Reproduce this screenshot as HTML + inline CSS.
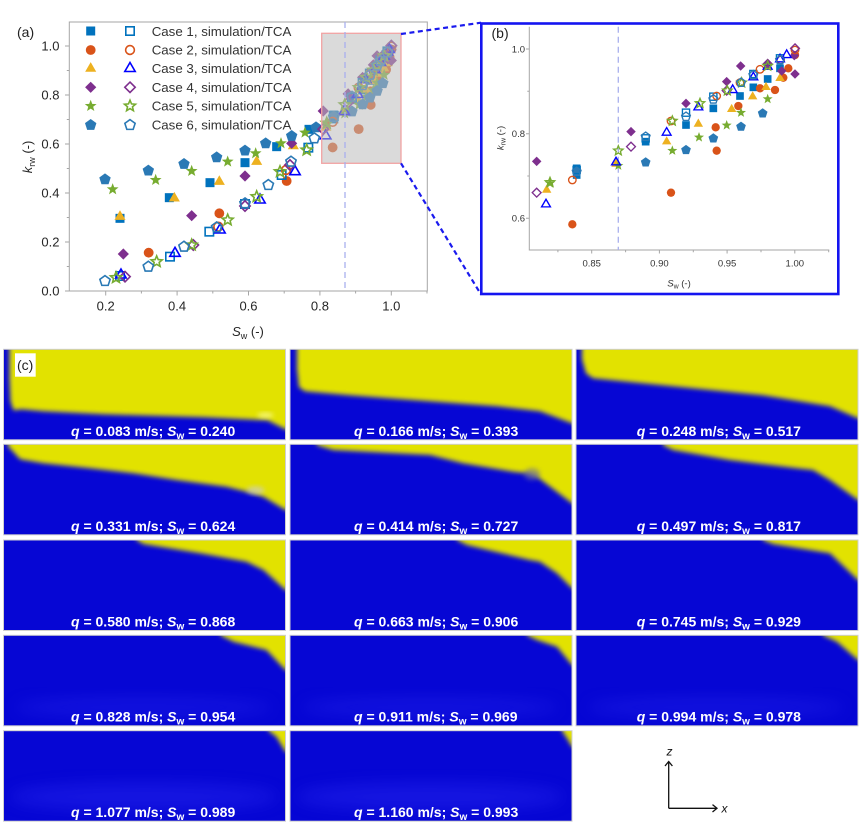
<!DOCTYPE html>
<html><head><meta charset="utf-8">
<style>
html,body{margin:0;padding:0;background:#fff;}
svg{display:block;font-family:"Liberation Sans",Arial,sans-serif;}
</style></head><body>
<svg id="s" width="861" height="826" viewBox="0 0 861 826" xmlns="http://www.w3.org/2000/svg">
<defs>
 <filter id="bl" x="-30%" y="-30%" width="160%" height="160%"><feGaussianBlur stdDeviation="2.3"/></filter>
 <filter id="bl2" x="-50%" y="-50%" width="200%" height="200%"><feGaussianBlur stdDeviation="8"/></filter>
 <clipPath id="tc"><rect x="0" y="0" width="282" height="90.5"/></clipPath>
</defs>
<rect width="861" height="826" fill="#fff"/>

<!-- ===== Panel (a) ===== -->
<g id="aAxes" stroke="#a6a6a6" stroke-width="1" fill="none">
 <path d="M69.3,22 V291 H427.3 V22 Z"/>
 <path d="M65,291H69.3 M65,242H69.3 M65,193H69.3 M65,144H69.3 M65,95H69.3 M65,46H69.3"/>
 <path d="M66.8,266.5H69.3 M66.8,217.5H69.3 M66.8,168.5H69.3 M66.8,119.5H69.3 M66.8,70.5H69.3"/>
 <path d="M105.7,291V295.5 M177.1,291V295.5 M248.5,291V295.5 M319.9,291V295.5 M391.3,291V295.5"/>
 <path d="M141.4,291V293.5 M212.8,291V293.5 M284.2,291V293.5 M355.6,291V293.5 M427,291V293.5"/>
</g>
<g font-size="13" fill="#262626" text-anchor="end">
 <text x="59.5" y="295.6">0.0</text>
 <text x="59.5" y="246.6">0.2</text>
 <text x="59.5" y="197.6">0.4</text>
 <text x="59.5" y="148.6">0.6</text>
 <text x="59.5" y="99.6">0.8</text>
 <text x="59.5" y="50.6">1.0</text>
</g>
<g font-size="13" fill="#262626" text-anchor="middle">
 <text x="105.7" y="310.5">0.2</text>
 <text x="177.1" y="310.5">0.4</text>
 <text x="248.5" y="310.5">0.6</text>
 <text x="319.9" y="310.5">0.8</text>
 <text x="391.3" y="310.5">1.0</text>
</g>
<text x="248" y="336" font-size="13" fill="#262626" text-anchor="middle"><tspan font-style="italic">S</tspan><tspan font-size="9" dy="3">w</tspan><tspan dy="-3"> (-)</tspan></text>
<text transform="translate(32,157) rotate(-90)" font-size="13" fill="#262626" text-anchor="middle"><tspan font-style="italic">k</tspan><tspan font-size="9" dy="3">rw</tspan><tspan dy="-3"> (-)</tspan></text>
<text x="17" y="37" font-size="14" fill="#222">(a)</text>

<g id="aMarks"></g>
<rect x="321.7" y="33.3" width="79.3" height="130" fill="rgba(188,188,188,0.55)" stroke="#f2a3a3" stroke-width="1.3"/>
<line x1="345" y1="22" x2="345" y2="291" stroke="#a9b0ee" stroke-width="1.3" stroke-dasharray="6,4"/>

<g font-size="13.3" fill="#333">
 <text x="151.7" y="35.8">Case 1, simulation/TCA</text>
 <text x="151.7" y="54.5">Case 2, simulation/TCA</text>
 <text x="151.7" y="73">Case 3, simulation/TCA</text>
 <text x="151.7" y="91.8">Case 4, simulation/TCA</text>
 <text x="151.7" y="110.5">Case 5, simulation/TCA</text>
 <text x="151.7" y="129.5">Case 6, simulation/TCA</text>
</g>
<g id="legMarks"></g>

<!-- connecting dashed lines -->
<g stroke="#1a1aee" stroke-width="2.2" stroke-dasharray="5,3.5" fill="none">
 <line x1="401" y1="34" x2="481" y2="22.7"/>
 <line x1="401" y1="163.3" x2="481" y2="294.5"/>
</g>

<!-- ===== Panel (b) ===== -->
<rect x="481.3" y="23.5" width="357" height="270.5" fill="#fff" stroke="#1414f0" stroke-width="2.6"/>
<g stroke="#a6a6a6" stroke-width="1" fill="none">
 <path d="M529.3,26.7 V250 H829.3"/>
 <path d="M526,49H529.3 M526,133.7H529.3 M526,218.3H529.3"/>
 <path d="M527.3,91.3H529.3 M527.3,176H529.3"/>
 <path d="M591.7,250V253.5 M659.4,250V253.5 M727.1,250V253.5 M794.8,250V253.5"/>
 <path d="M557.9,250V252.2 M625.6,250V252.2 M693.3,250V252.2 M761,250V252.2 M828.7,250V252.2"/>
</g>
<g font-size="9.5" fill="#333" text-anchor="end">
 <text x="525" y="52.4">1.0</text>
 <text x="525" y="137">0.8</text>
 <text x="525" y="221.7">0.6</text>
</g>
<g font-size="9.5" fill="#333" text-anchor="middle">
 <text x="591.7" y="266.6">0.85</text>
 <text x="659.4" y="266.6">0.90</text>
 <text x="727.1" y="266.6">0.95</text>
 <text x="794.8" y="266.6">1.00</text>
</g>
<text x="679" y="286.5" font-size="9.5" fill="#333" text-anchor="middle"><tspan font-style="italic">S</tspan><tspan font-size="7" dy="2">w</tspan><tspan dy="-2"> (-)</tspan></text>
<text transform="translate(503.5,138) rotate(-90)" font-size="9.5" fill="#333" text-anchor="middle"><tspan font-style="italic">k</tspan><tspan font-size="7" dy="2">rw</tspan><tspan dy="-2"> (-)</tspan></text>
<text x="491.5" y="38" font-size="14" fill="#222">(b)</text>
<line x1="618.3" y1="26.7" x2="618.3" y2="250" stroke="#a9b0ee" stroke-width="1.3" stroke-dasharray="6,4"/>
<g id="bMarks"></g>

<!-- ===== Panel (c) tiles ===== -->
<g id="tiles" font-size="14" font-weight="bold" fill="#fff">

<g transform="translate(3.5,349.3)"><g clip-path="url(#tc)">
 <rect width="282" height="90.5" fill="#0606d4"/>
 <polygon filter="url(#bl)" fill="#e2e200" points="6,-10 292,-10 292,82 282,80 264,71 200,68 100,65 40,62 18,60 10,61 7,52 6,30"/>
 <ellipse cx="262" cy="66" rx="8" ry="3" fill="#ffffb0" opacity="0.6" filter="url(#bl)"/>
</g><rect x="0" y="0" width="282" height="90.5" fill="none" stroke="#cfcfcf" stroke-width="1"/></g>

<g transform="translate(290,349.3)"><g clip-path="url(#tc)">
 <rect width="282" height="90.5" fill="#0606d4"/>
 <polygon filter="url(#bl)" fill="#e2e200" points="7,-10 292,-10 292,76 282,74 250,62 207,57 140,52 60,46 15,42 9,38 7,20"/>
</g><rect x="0" y="0" width="282" height="90.5" fill="none" stroke="#cfcfcf" stroke-width="1"/></g>

<g transform="translate(576,349.3)"><g clip-path="url(#tc)">
 <rect width="282" height="90.5" fill="#0606d4"/>
 <polygon filter="url(#bl)" fill="#e2e200" points="6,-10 292,-10 292,71 282,69 254,57 187,46 87,36 17,29 10,24 6,10"/>
</g><rect x="0" y="0" width="282" height="90.5" fill="none" stroke="#cfcfcf" stroke-width="1"/></g>

<g transform="translate(3.5,444.3)"><g clip-path="url(#tc)">
 <rect width="282" height="90.5" fill="#0606d4"/>
 <polygon filter="url(#bl)" fill="#e2e200" points="3,-10 292,-10 292,68 282,65.7 260,52.4 243,47.4 223,42.4 173,35.7 130,29 86.7,24 40,19 16.7,15 5,2.4"/>
 <ellipse cx="252" cy="46" rx="9" ry="4" fill="#c8c8e8" opacity="0.6" filter="url(#bl)"/>
</g><rect x="0" y="0" width="282" height="90.5" fill="none" stroke="#cfcfcf" stroke-width="1"/></g>

<g transform="translate(290,444.3)"><g clip-path="url(#tc)">
 <rect width="282" height="90.5" fill="#0606d4"/>
 <polygon filter="url(#bl)" fill="#e2e200" points="26.7,-10 292,-10 292,61 282,59 247,32.4 237,29 223,27.4 173,19 140,10.7 43.3,5.7 26.7,0.7"/>
 <ellipse cx="242" cy="30" rx="8" ry="6" fill="#6a6aa0" opacity="0.6" filter="url(#bl)"/>
</g><rect x="0" y="0" width="282" height="90.5" fill="none" stroke="#cfcfcf" stroke-width="1"/></g>

<g transform="translate(576,444.3)"><g clip-path="url(#tc)">
 <rect width="282" height="90.5" fill="#0606d4"/>
 <polygon filter="url(#bl)" fill="#e2e200" points="87,-10 292,-10 292,58 282,55.7 254,35.7 237,25.7 221,24 154,15.7 97,5.7 87,0.7"/>
</g><rect x="0" y="0" width="282" height="90.5" fill="none" stroke="#cfcfcf" stroke-width="1"/></g>

<g transform="translate(3.5,540)"><g clip-path="url(#tc)">
 <rect width="282" height="90.5" fill="#0606d4"/>
 <polygon filter="url(#bl)" fill="#e2e200" points="133,-10 292,-10 292,52 282,50 260,30 243,21.7 197,13.3 140,4 133,0"/>
</g><rect x="0" y="0" width="282" height="90.5" fill="none" stroke="#cfcfcf" stroke-width="1"/></g>

<g transform="translate(290,540)"><g clip-path="url(#tc)">
 <rect width="282" height="90.5" fill="#0606d4"/>
 <polygon filter="url(#bl)" fill="#e2e200" points="167,-10 292,-10 292,50 282,48.3 267,33.3 250,21.7 240,20 177,5 167,0"/>
</g><rect x="0" y="0" width="282" height="90.5" fill="none" stroke="#cfcfcf" stroke-width="1"/></g>

<g transform="translate(576,540)"><g clip-path="url(#tc)">
 <rect width="282" height="90.5" fill="#0606d4"/>
 <polygon filter="url(#bl)" fill="#e2e200" points="187,-10 292,-10 292,42 282,40 254,13.3 197,4 187,0"/>
</g><rect x="0" y="0" width="282" height="90.5" fill="none" stroke="#cfcfcf" stroke-width="1"/></g>

<g transform="translate(3.5,635.3)"><g clip-path="url(#tc)">
 <rect width="282" height="90.5" fill="#0606d4"/>
 <ellipse cx="140" cy="72" rx="130" ry="10" fill="#3a3aff" opacity="0.25" filter="url(#bl2)"/>
 <polygon filter="url(#bl)" fill="#e2e200" points="217,-10 292,-10 292,37 282,34.7 263,14.7 230,6.4 217,0"/>
</g><rect x="0" y="0" width="282" height="90.5" fill="none" stroke="#cfcfcf" stroke-width="1"/></g>

<g transform="translate(290,635.3)"><g clip-path="url(#tc)">
 <rect width="282" height="90.5" fill="#0606d4"/>
 <ellipse cx="140" cy="72" rx="130" ry="10" fill="#3a3aff" opacity="0.25" filter="url(#bl2)"/>
 <polygon filter="url(#bl)" fill="#e2e200" points="237,-10 292,-10 292,32 282,29.7 267,11.4 247,4.7 237,0"/>
</g><rect x="0" y="0" width="282" height="90.5" fill="none" stroke="#cfcfcf" stroke-width="1"/></g>

<g transform="translate(576,635.3)"><g clip-path="url(#tc)">
 <rect width="282" height="90.5" fill="#0606d4"/>
 <ellipse cx="140" cy="72" rx="130" ry="10" fill="#3a3aff" opacity="0.25" filter="url(#bl2)"/>
 <polygon filter="url(#bl)" fill="#e2e200" points="247,-10 292,-10 292,27 282,24.7 261,6.4 247,0"/>
</g><rect x="0" y="0" width="282" height="90.5" fill="none" stroke="#cfcfcf" stroke-width="1"/></g>

<g transform="translate(3.5,730.7)"><g clip-path="url(#tc)">
 <rect width="282" height="90.5" fill="#0606d4"/>
 <ellipse cx="140" cy="66" rx="135" ry="14" fill="#3a3aff" opacity="0.3" filter="url(#bl2)"/>
 <polygon filter="url(#bl)" fill="#e2e200" points="265,-10 292,-10 292,23 282,21 273,6 265,0"/>
</g><rect x="0" y="0" width="282" height="90.5" fill="none" stroke="#cfcfcf" stroke-width="1"/></g>

<g transform="translate(290,730.7)"><g clip-path="url(#tc)">
 <rect width="282" height="90.5" fill="#0606d4"/>
 <ellipse cx="140" cy="66" rx="135" ry="14" fill="#3a3aff" opacity="0.3" filter="url(#bl2)"/>
 <polygon filter="url(#bl)" fill="#e2e200" points="272,-10 292,-10 292,18 282,16 277,7.6 272,0"/>
</g><rect x="0" y="0" width="282" height="90.5" fill="none" stroke="#cfcfcf" stroke-width="1"/></g>

<!-- labels -->
<text x="71" y="435.8"><tspan font-style="italic">q</tspan> = 0.083 m/s; <tspan font-style="italic">S</tspan><tspan font-size="10" dy="3">w</tspan><tspan dy="-3"> = 0.240</tspan></text>
<text x="354" y="435.8"><tspan font-style="italic">q</tspan> = 0.166 m/s; <tspan font-style="italic">S</tspan><tspan font-size="10" dy="3">w</tspan><tspan dy="-3"> = 0.393</tspan></text>
<text x="636.7" y="435.8"><tspan font-style="italic">q</tspan> = 0.248 m/s; <tspan font-style="italic">S</tspan><tspan font-size="10" dy="3">w</tspan><tspan dy="-3"> = 0.517</tspan></text>

<text x="71" y="530.8"><tspan font-style="italic">q</tspan> = 0.331 m/s; <tspan font-style="italic">S</tspan><tspan font-size="10" dy="3">w</tspan><tspan dy="-3"> = 0.624</tspan></text>
<text x="354" y="530.8"><tspan font-style="italic">q</tspan> = 0.414 m/s; <tspan font-style="italic">S</tspan><tspan font-size="10" dy="3">w</tspan><tspan dy="-3"> = 0.727</tspan></text>
<text x="636.7" y="530.8"><tspan font-style="italic">q</tspan> = 0.497 m/s; <tspan font-style="italic">S</tspan><tspan font-size="10" dy="3">w</tspan><tspan dy="-3"> = 0.817</tspan></text>

<text x="71" y="626.3"><tspan font-style="italic">q</tspan> = 0.580 m/s; <tspan font-style="italic">S</tspan><tspan font-size="10" dy="3">w</tspan><tspan dy="-3"> = 0.868</tspan></text>
<text x="354" y="626.3"><tspan font-style="italic">q</tspan> = 0.663 m/s; <tspan font-style="italic">S</tspan><tspan font-size="10" dy="3">w</tspan><tspan dy="-3"> = 0.906</tspan></text>
<text x="636.7" y="626.3"><tspan font-style="italic">q</tspan> = 0.745 m/s; <tspan font-style="italic">S</tspan><tspan font-size="10" dy="3">w</tspan><tspan dy="-3"> = 0.929</tspan></text>

<text x="71" y="721.6"><tspan font-style="italic">q</tspan> = 0.828 m/s; <tspan font-style="italic">S</tspan><tspan font-size="10" dy="3">w</tspan><tspan dy="-3"> = 0.954</tspan></text>
<text x="354" y="721.6"><tspan font-style="italic">q</tspan> = 0.911 m/s; <tspan font-style="italic">S</tspan><tspan font-size="10" dy="3">w</tspan><tspan dy="-3"> = 0.969</tspan></text>
<text x="636.7" y="721.6"><tspan font-style="italic">q</tspan> = 0.994 m/s; <tspan font-style="italic">S</tspan><tspan font-size="10" dy="3">w</tspan><tspan dy="-3"> = 0.978</tspan></text>

<text x="71" y="817"><tspan font-style="italic">q</tspan> = 1.077 m/s; <tspan font-style="italic">S</tspan><tspan font-size="10" dy="3">w</tspan><tspan dy="-3"> = 0.989</tspan></text>
<text x="354" y="817"><tspan font-style="italic">q</tspan> = 1.160 m/s; <tspan font-style="italic">S</tspan><tspan font-size="10" dy="3">w</tspan><tspan dy="-3"> = 0.993</tspan></text>
</g>

<rect x="15" y="353.3" width="20.7" height="23.4" fill="#fff"/>
<text x="17" y="370" font-size="14" fill="#222">(c)</text>

<!-- coordinate axes symbol -->
<g stroke="#111" stroke-width="1.3" fill="none">
 <path d="M668.7,808.3 V761.5 M668.7,808.3 H717"/>
 <path d="M665,766 L668.7,761.5 L672.4,766"/>
 <path d="M712.5,804.6 L717,808.3 L712.5,812"/>
</g>
<text x="666.5" y="755.5" font-size="12" font-style="italic" fill="#111">z</text>
<text x="721.5" y="812.5" font-size="12" font-style="italic" fill="#111">x</text>
</svg>

<script>
(function(){
var NS="http://www.w3.org/2000/svg";
function el(tag,attrs,parent){var e=document.createElementNS(NS,tag);for(var k in attrs)e.setAttribute(k,attrs[k]);parent.appendChild(e);return e;}
var CF={sq:'#0072BD',ci:'#D95319',tr:'#EDB120',di:'#7E2F8E',st:'#77AC30',pe:'#2A79B5'};
var CO={sq:'#0072BD',ci:'#D95319',tr:'#0000FF',di:'#7E2F8E',st:'#77AC30',pe:'#2A79B5'};
function P(a){return a.map(function(p){return p[0].toFixed(2)+','+p[1].toFixed(2);}).join(' ');}
function reg(n,r,cx,cy,r2){var p=[];var m=r2?2*n:n;for(var i=0;i<m;i++){var ang=-Math.PI/2+i*2*Math.PI/m;var rad=(r2&&i%2)?r2:r;p.push([cx+rad*Math.cos(ang),cy+rad*Math.sin(ang)]);}return p;}
function mk(g,t,x,y,open,s){
 var col=open?CO[t]:CF[t];
 var a=open?{fill:'none',stroke:col,'stroke-width':(1.6*Math.max(s,0.85)).toFixed(2),'stroke-linejoin':'miter'}:{fill:col};
 var o;
 if(t==='sq'){var h=(open?4.2:4.5)*s;o={x:x-h,y:y-h,width:2*h,height:2*h};for(var k in a)o[k]=a[k];el('rect',o,g);}
 else if(t==='ci'){o={cx:x,cy:y,r:(open?4.4:4.9)*s};for(var k in a)o[k]=a[k];el('circle',o,g);}
 else{
  var pp;
  if(t==='tr'){var r=(open?6.0:6.4)*s;pp=[[x,y-r],[x+r*0.866,y+r*0.5],[x-r*0.866,y+r*0.5]];}
  else if(t==='di'){var r=(open?5.2:5.6)*s;pp=[[x,y-r],[x+r,y],[x,y+r],[x-r,y]];}
  else if(t==='st'){pp=reg(5,(open?5.8:6.2)*s,x,y,(open?2.6:2.6)*s);}
  else {pp=reg(5,(open?5.4:6.0)*s,x,y);}
  o={points:P(pp)};for(var k in a)o[k]=a[k];el('polygon',o,g);
 }
}
var order=['sq','ci','tr','di','st','pe'];

// Panel (b) data in 3x zoom coords (origin 440,0)
var bF={
 sq:[[410,505],[410,525],[617,425],[738,375],[820,325],[900,288],[940,262],[983,237],[1020,205]],
 ci:[[397,673],[693,578],[827,382],[830,452],[895,318],[960,265],[1005,270],[1030,233],[1045,205],[1065,165]],
 tr:[[320,570],[528,492],[680,425],[775,372],[875,328],[938,290],[978,262],[1020,235]],
 di:[[290,484],[573,395],[738,310],[860,245],[902,198],[983,190],[1025,213],[1065,222],[1063,167]],
 st:[[330,550],[535,497],[697,452],[777,412],[860,376],[903,338],[983,297]],
 pe:[[410,515],[617,487],[738,450],[820,415],[903,380],[968,340]]
};
var bO={
 sq:[[410,510],[617,415],[738,338],[820,290],[940,222],[1020,175]],
 ci:[[397,540],[693,363],[830,288],[900,248],[960,208],[1022,180],[1065,150]],
 tr:[[318,613],[528,487],[680,398],[775,322],[878,270],[940,232],[983,200],[1020,178],[1040,165]],
 di:[[290,578],[573,440],[860,272],[983,192],[1065,145]],
 st:[[330,547],[535,452],[697,363],[780,310],[862,272],[905,248],[983,198]],
 pe:[[410,515],[617,410],[738,350],[820,298],[903,248],[940,225],[1020,180]]
};
// Panel (a) data in 3x zoom coords (origin 0,0), x<0.8 part
var aF={
 sq:[[360,655],[508,593],[630,548],[735,488],[830,440],[927,388]],
 ci:[[446,758],[658,640],[860,543]],
 tr:[[360,650],[523,595],[658,545],[770,485],[880,438]],
 di:[[370,762],[575,647],[735,528],[875,430]],
 st:[[338,568],[467,540],[575,513],[683,485],[767,460],[843,430],[915,398]],
 pe:[[315,538],[445,512],[552,492],[650,472],[735,452],[797,430],[875,408],[948,382]]
};
var aO={
 sq:[[360,828],[510,770],[628,695],[735,612],[845,525],[925,443]],
 ci:[[655,680],[858,510]],
 tr:[[363,825],[525,760],[660,690],[780,600],[885,515]],
 di:[[375,830],[580,735],[735,618],[870,495]],
 st:[[348,833],[470,785],[575,735],[683,660],[770,590],[840,515],[920,450]],
 pe:[[315,843],[445,800],[552,740],[650,682],[735,610],[805,555],[873,485],[943,415]]
};
var gA=document.getElementById('aMarks'),gB=document.getElementById('bMarks'),gL=document.getElementById('legMarks');
function drawSet(g,data,open,fx,fy,s){order.forEach(function(t){(data[t]||[]).forEach(function(p){mk(g,t,fx(p[0]),fy(p[1]),open,s);});});}
var ax=function(X){return X/3;},ay=function(Y){return Y/3;};
var bx=function(X){return 440+X/3;},by=function(Y){return Y/3;};
var cx=function(X){return 297.75+0.0879*X;},cy=function(Y){return 17.65+0.19284*Y;};
// panel a
drawSet(gA,aF,false,ax,ay,1);
drawSet(gA,bF,false,cx,cy,1);
drawSet(gA,aO,true,ax,ay,1);
drawSet(gA,bO,true,cx,cy,1);
// panel b
drawSet(gB,bF,false,bx,by,0.85);
drawSet(gB,bO,true,bx,by,0.85);
// legend
var ly=[31,50,68.5,87.3,106,125];
order.forEach(function(t,i){mk(gL,t,90.7,ly[i],false,1);mk(gL,t,130,ly[i],true,1);});
})();
</script>
</body></html>
